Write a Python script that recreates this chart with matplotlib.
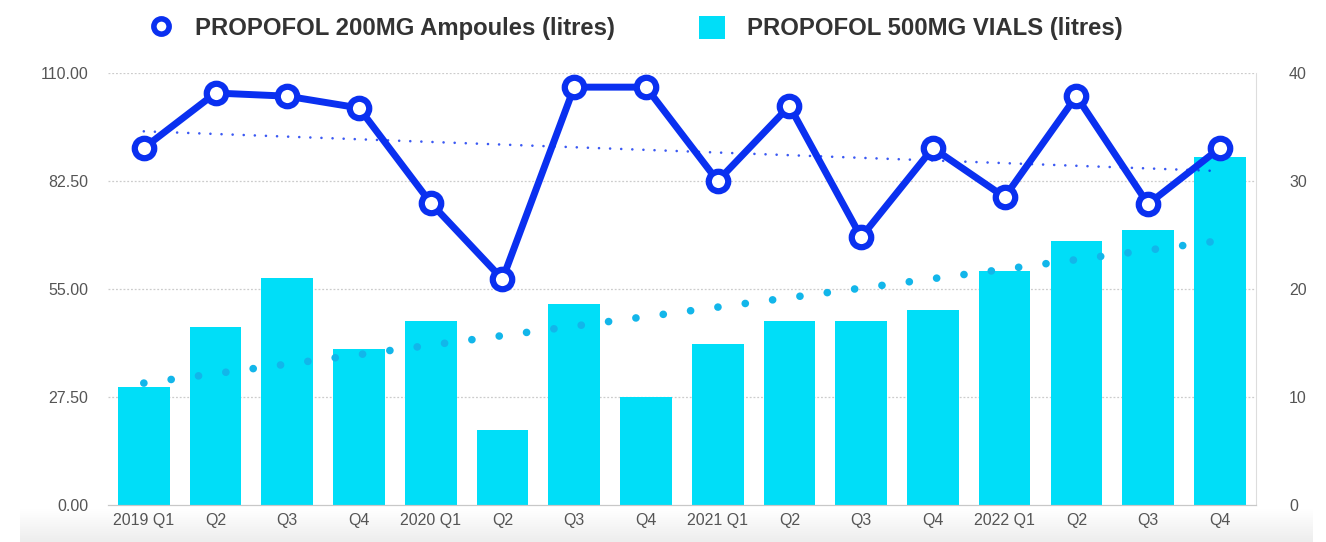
import matplotlib
matplotlib.use("Agg")
import matplotlib.pyplot as plt
from matplotlib.lines import Line2D
import numpy as np

plt.rcParams['font.family'] = ['Liberation Sans', 'DejaVu Sans']

# data
quarters = ["2019 Q1", "Q2", "Q3", "Q4", "2020 Q1", "Q2", "Q3", "Q4",
            "2021 Q1", "Q2", "Q3", "Q4", "2022 Q1", "Q2", "Q3", "Q4"]
ampoules_200mg = [90.9, 104.9, 104.1, 101.1, 76.9, 57.5, 106.4, 106.4,
                  82.5, 101.6, 68.2, 90.9, 78.4, 104.1, 76.6, 90.9]
vials_500mg = [10.9, 16.5, 21.0, 14.4, 17.0, 6.9, 18.6, 10.0,
               14.9, 17.0, 17.0, 18.1, 21.7, 24.4, 25.5, 32.2]
left_ticks = [0, 27.5, 55, 82.5, 110]
right_ticks = [0, 10, 20, 30, 40]

line_col = "#0a30f0"
bar_col = "#00def8"
bar_trend_col = "#12b6ea"
txt_col = "#555555"

fig = plt.figure(figsize=(13.26, 5.42), dpi=100)

# light grey band along the bottom (white -> pale grey)
bg = fig.add_axes([0.015, 0.0, 0.975, 0.06], zorder=-5)
shade = np.linspace(1.0, 0.93, 50)
grad = np.dstack([shade, shade, shade]).reshape(-1, 1, 3)
bg.imshow(grad, aspect="auto", origin="upper")
bg.axis("off")

ax = fig.add_axes([0.0814, 0.0683, 0.8656, 0.797])
ax2 = ax.twinx()
x = np.arange(len(quarters))

# bars on the right axis
ax2.bar(x, vials_500mg, width=0.72, color=bar_col, zorder=2,
        label="PROPOFOL 500MG VIALS (litres)")
k, b = np.polyfit(x, vials_500mg, 1)
ax2.plot(x, k * x + b, color=bar_trend_col, lw=5.5,
         linestyle=(0, (0.01, 3.6)), dash_capstyle="round", zorder=3)
ax2.set_ylim(0, 40)
ax2.set_yticks(right_ticks)
ax2.set_yticklabels([str(t) for t in right_ticks])

# line on the left axis, drawn above the bars
ax.set_zorder(ax2.get_zorder() + 1)
ax.patch.set_visible(False)
ax.plot(x, ampoules_200mg, color=line_col, lw=5, marker="o", ms=14,
        mfc="white", mec=line_col, mew=4.5, zorder=4)
k2, b2 = np.polyfit(x, ampoules_200mg, 1)
ax.plot(x, k2 * x + b2, color=line_col, lw=1.9,
        linestyle=(0, (0.01, 4.2)), dash_capstyle="round", zorder=3, alpha=0.8)
ax.set_ylim(0, 110)
ax.set_yticks(left_ticks)
ax.set_yticklabels([f"{t:.2f}" for t in left_ticks])
ax.set_xlim(-0.5, len(quarters) - 0.5)
ax.set_xticks(x)
ax.set_xticklabels(quarters)

for t in left_ticks[1:]:
    ax2.axhline(t * 40 / 110, color="#cccccc", lw=0.9, ls=(0, (1.5, 1.5)), zorder=1)

for a in (ax, ax2):
    for s in ("top", "left", "right"):
        a.spines[s].set_visible(False)
    a.spines["bottom"].set_color("#c8c8c8")
    a.tick_params(length=0, colors=txt_col, labelsize=11.5)
ax2.spines["right"].set_visible(True)
ax2.spines["right"].set_color("#dddddd")
ax.tick_params(axis="y", pad=14)
ax2.tick_params(axis="y", pad=24)
ax.tick_params(axis="x", pad=6)

line_handle = Line2D([], [], ls="none", marker="o", ms=11, mfc="white",
                     mec=line_col, mew=4)
h2, l2 = ax2.get_legend_handles_labels()
leg = fig.legend([line_handle] + h2,
                 ["PROPOFOL 200MG Ampoules (litres)"] + l2,
                 loc="center", bbox_to_anchor=(0.479, 0.948), ncol=2,
                 frameon=False, prop={"weight": "bold", "size": 17.2},
                 columnspacing=3.5, handlelength=1.1, handleheight=1.1,
                 handletextpad=0.9)
for t in leg.get_texts():
    t.set_color("#333333")

fig.savefig("out.png", dpi=100)
